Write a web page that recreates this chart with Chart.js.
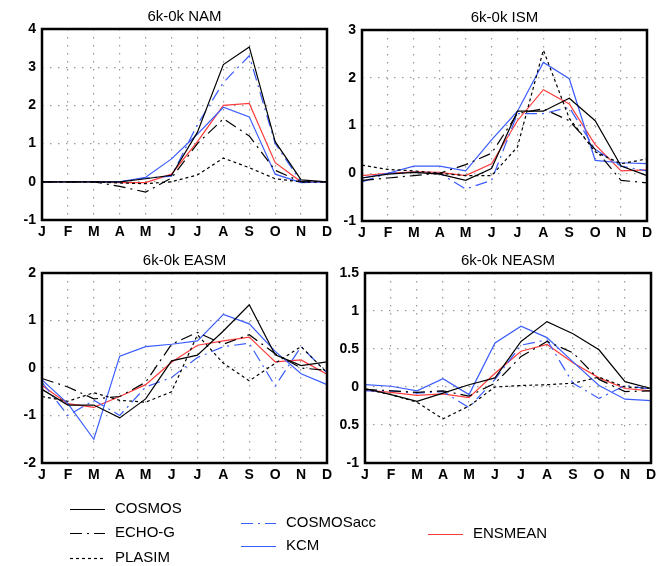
<!DOCTYPE html>
<html>
<head>
<meta charset="utf-8">
<script src="https://cdn.jsdelivr.net/npm/chart.js@4.4.0/dist/chart.umd.min.js"></script>
<style>
  body { margin: 0; background: #fff; }
  #wrap { position: relative; width: 659px; height: 566px; overflow: hidden; }
  #wrap canvas { position: absolute; }
</style>
</head>
<body>
<div id="wrap">
  <canvas id="c1" style="left:0;top:0"></canvas>
  <canvas id="c2" style="left:320px;top:0"></canvas>
  <canvas id="c3" style="left:0;top:243px"></canvas>
  <canvas id="c4" style="left:320px;top:243px"></canvas>
  <canvas id="leg" style="left:0;top:480px"></canvas>
</div>
<script>
const months = ['J', 'F', 'M', 'A', 'M', 'J', 'J', 'A', 'S', 'O', 'N', 'D'];

// 6k-0k NAM
const namCosmos    = [0, 0, 0, 0, 0.08, 0.17, 1.3, 3.07, 3.53, 1.05, 0.05, 0];
const namEchoG     = [0, 0, 0, -0.12, -0.27, 0.1, 1.0, 1.65, 1.2, 0.3, 0, 0];
const namPlasim    = [0, 0, 0, -0.03, -0.05, 0, 0.18, 0.62, 0.37, 0.08, 0, 0];
const namCosmosAcc = [0, 0, 0, 0, 0.1, 0.15, 1.5, 2.6, 3.3, 1.0, 0, 0];
const namKcm       = [0, 0, 0, 0, 0.12, 0.6, 1.25, 1.95, 1.7, 0.2, -0.02, 0];
const namEnsmean   = [0, 0, 0, -0.02, -0.02, 0.2, 1.05, 2.0, 2.05, 0.5, 0, 0];

// 6k-0k ISM
const ismCosmos    = [-0.1, -0.02, 0.02, -0.02, -0.15, 0.1, 1.3, 1.3, 1.57, 1.1, 0.15, -0.05];
const ismEchoG     = [-0.15, -0.1, -0.05, 0, 0.18, 0.42, 1.25, 1.35, 1.1, 0.5, -0.15, -0.2];
const ismPlasim    = [0.17, 0.08, 0.05, 0, -0.05, -0.05, 0.55, 2.58, 1.15, 0.45, 0.2, 0.3];
const ismCosmosAcc = [-0.18, 0, 0.02, 0, -0.33, -0.15, 1.25, 1.25, 1.38, 0.5, 0.15, 0.05];
const ismKcm       = [-0.1, 0, 0.15, 0.15, 0.05, 0.7, 1.3, 2.32, 1.98, 0.27, 0.22, 0.2];
const ismEnsmean   = [-0.05, 0, 0.03, 0.02, -0.05, 0.2, 1.1, 1.75, 1.45, 0.6, 0.05, 0.07];

// 6k-0k EASM
const easmCosmos    = [-0.45, -0.78, -0.78, -1.05, -0.65, 0.15, 0.27, 0.78, 1.33, 0.28, 0.05, 0.13];
const easmEchoG     = [-0.22, -0.4, -0.65, -0.6, -0.3, 0.5, 0.75, 0.5, 0.7, 0.3, 0.0, -0.05];
const easmPlasim    = [-0.6, -0.7, -0.52, -0.68, -0.72, -0.5, 0.7, 0.1, -0.27, 0.1, 0.45, -0.1];
const easmCosmosAcc = [-0.3, -1.0, -0.68, -1.0, -0.4, -0.2, 0.22, 0.45, 0.52, -0.38, 0.45, -0.1];
const easmKcm       = [-0.25, -0.75, -1.5, 0.25, 0.45, 0.5, 0.57, 1.13, 0.93, 0.35, -0.12, -0.35];
const easmEnsmean   = [-0.37, -0.75, -0.83, -0.6, -0.35, 0.12, 0.48, 0.57, 0.65, 0.13, 0.17, -0.13];

// 6k-0k NEASM
const neasmCosmos    = [-0.02, -0.1, -0.19, -0.08, 0.03, 0.12, 0.6, 0.86, 0.7, 0.49, 0.07, -0.02];
const neasmEchoG     = [-0.03, -0.05, -0.07, -0.05, -0.12, 0.05, 0.4, 0.6, 0.45, 0.1, -0.06, -0.05];
const neasmPlasim    = [-0.03, -0.1, -0.2, -0.42, -0.25, 0, 0.02, 0.03, 0.05, 0.13, 0, -0.02];
const neasmCosmosAcc = [-0.05, -0.05, -0.08, -0.06, -0.27, 0.1, 0.55, 0.62, 0.05, -0.15, 0.02, -0.03];
const neasmKcm       = [0.03, 0.01, -0.05, 0.11, -0.1, 0.58, 0.8, 0.65, 0.33, 0.02, -0.16, -0.18];
const neasmEnsmean   = [-0.04, -0.07, -0.11, -0.09, -0.14, 0.18, 0.47, 0.56, 0.32, 0.12, -0.02, -0.05];

// tick labels as printed
const ticksNam   = ['-1', '0', '1', '2', '3', '4'];
const ticksIsm   = ['-1', '0', '1', '2', '3'];
const ticksEasm  = ['-2', '-1', '0', '1', '2'];
const ticksNeasm = ['-1', '0.5', '0', '0.5', '1', '1.5'];

const BLUE = '#3a5cff';
const RED = '#ff3c3c';
const styles = {
  COSMOS:    { color: '#000', dash: [] },
  'ECHO-G':  { color: '#000', dash: [12, 5, 2, 5] },
  PLASIM:    { color: '#000', dash: [3, 3] },
  COSMOSacc: { color: BLUE, dash: [12, 5, 2, 5] },
  KCM:       { color: BLUE, dash: [] },
  ENSMEAN:   { color: RED, dash: [] }
};

const frame = {
  id: 'frame',
  afterDatasetsDraw(chart) {
    const a = chart.chartArea, c = chart.ctx;
    c.save();
    c.strokeStyle = '#000';
    c.lineWidth = 2.5;
    c.strokeRect(a.left, a.top, a.right - a.left, a.bottom - a.top);
    c.fillStyle = '#000';
    c.font = '15px "Liberation Sans", Arial, sans-serif';
    c.textAlign = 'center';
    c.textBaseline = 'alphabetic';
    c.fillText(chart.options.plugins.panelTitle.text, (a.left + a.right) / 2, a.top - 8);
    c.restore();
  }
};

function makePanel(id, title, w, h, pad, yMin, yMax, step, tickLabels, series) {
  const cv = document.getElementById(id);
  cv.width = w; cv.height = h;
  cv.style.width = w + 'px'; cv.style.height = h + 'px';
  const names = Object.keys(styles);
  new Chart(cv, {
    type: 'line',
    data: {
      labels: months,
      datasets: series.map((d, i) => ({
        label: names[i],
        data: d,
        borderColor: styles[names[i]].color,
        borderDash: styles[names[i]].dash,
        borderWidth: 1.2,
        pointRadius: 0,
        tension: 0,
        fill: false
      }))
    },
    options: {
      responsive: false,
      animation: false,
      layout: { padding: { top: pad.top, right: pad.right, left: 0, bottom: 0 } },
      plugins: { legend: { display: false }, tooltip: { enabled: false }, panelTitle: { text: title } },
      scales: {
        x: {
          offset: false,
          grid: { color: '#9a9a9a', drawTicks: false, offset: false, lineWidth: 1.2 },
          border: { display: false, dash: [1.5, 6.5] },
          ticks: { color: '#000', padding: 4, maxRotation: 0, autoSkip: false,
                   font: { size: 14, weight: 'bold', family: '"Liberation Sans", Arial, sans-serif' } },
          afterFit(s) { s.height = pad.bottom; s.paddingLeft = 0; s.paddingRight = 0; }
        },
        y: {
          min: yMin, max: yMax,
          grid: { color: '#9a9a9a', drawTicks: false, lineWidth: 1.2 },
          border: { display: false, dash: [1.5, 6.5] },
          ticks: {
            stepSize: step, color: '#000', padding: 6,
            font: { size: 14, weight: 'bold', family: '"Liberation Sans", Arial, sans-serif' },
            callback: (v, i) => tickLabels[i]
          },
          afterFit(s) { s.width = pad.left; s.paddingTop = 0; s.paddingBottom = 0; }
        }
      }
    },
    plugins: [frame]
  });
}

makePanel('c1', '6k-0k NAM', 345, 243, { top: 29, right: 18, left: 42, bottom: 23 }, -1, 4, 1, ticksNam,
  [namCosmos, namEchoG, namPlasim, namCosmosAcc, namKcm, namEnsmean]);
makePanel('c2', '6k-0k ISM', 339, 243, { top: 30, right: 12, left: 42, bottom: 22 }, -1, 3, 1, ticksIsm,
  [ismCosmos, ismEchoG, ismPlasim, ismCosmosAcc, ismKcm, ismEnsmean]);
makePanel('c3', '6k-0k EASM', 345, 237, { top: 30, right: 18, left: 42, bottom: 17 }, -2, 2, 1, ticksEasm,
  [easmCosmos, easmEchoG, easmPlasim, easmCosmosAcc, easmKcm, easmEnsmean]);
makePanel('c4', '6k-0k NEASM', 339, 237, { top: 30, right: 8, left: 45, bottom: 17 }, -1, 1.5, 0.5, ticksNeasm,
  [neasmCosmos, neasmEchoG, neasmPlasim, neasmCosmosAcc, neasmKcm, neasmEnsmean]);

// legend
const legendItems = [
  { name: 'COSMOS', x: 70, y: 29 },
  { name: 'ECHO-G', x: 70, y: 53 },
  { name: 'PLASIM', x: 70, y: 78 },
  { name: 'COSMOSacc', x: 241, y: 43 },
  { name: 'KCM', x: 241, y: 66 },
  { name: 'ENSMEAN', x: 428, y: 54 }
];
const lg = document.getElementById('leg');
lg.width = 659; lg.height = 86;
const lc = lg.getContext('2d');
lc.font = '15px "Liberation Sans", Arial, sans-serif';
lc.textBaseline = 'middle';
legendItems.forEach(it => {
  const st = styles[it.name];
  lc.strokeStyle = st.color;
  lc.lineWidth = 1.2;
  lc.setLineDash(st.dash);
  lc.beginPath();
  lc.moveTo(it.x, it.y + 0.5);
  lc.lineTo(it.x + 35, it.y + 0.5);
  lc.stroke();
  lc.setLineDash([]);
  lc.fillStyle = '#000';
  lc.fillText(it.name, it.x + 45, it.y);
});
</script>
</body>
</html>
